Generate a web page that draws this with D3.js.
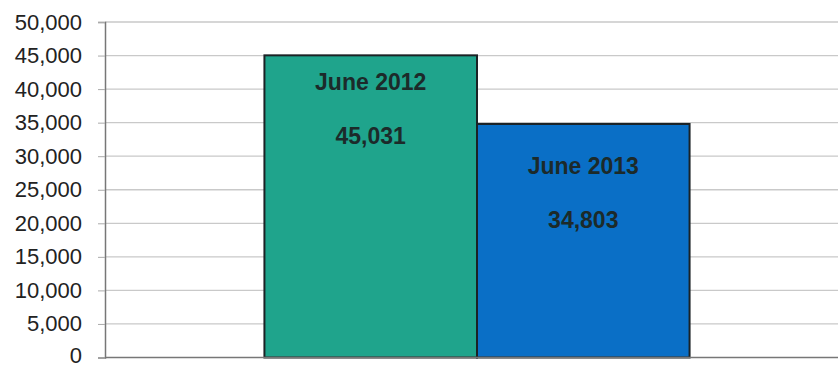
<!DOCTYPE html>
<html>
<head>
<meta charset="utf-8">
<script src="https://cdn.jsdelivr.net/npm/d3@7/dist/d3.min.js"></script>
<style>
  html, body { margin: 0; padding: 0; background: #fff; }
  svg { display: block; }
</style>
</head>
<body>
<svg id="chart" width="838" height="367"></svg>
<script>
// Chart data
const periods = ["June 2012", "June 2013"];
const totals = [45031, 34803];
const barColors = ["#1fa48c", "#0a6fc6"];
const yTicks = [0, 5000, 10000, 15000, 20000, 25000, 30000, 35000, 40000, 45000, 50000];

const svg = d3.select("#chart");
const plot = { left: 105, right: 849, top: 22, bottom: 357.5 };

const y = d3.scaleLinear().domain([0, 50000]).range([plot.bottom, plot.top]);
// one category; bars sit side by side with a 150% gap around the group
const x = d3.scaleBand().domain(periods).range([plot.left, plot.right])
  .paddingInner(0).paddingOuter(0.75);

const fmt = d3.format(",");

// horizontal gridlines
svg.append("g")
  .selectAll("line")
  .data(yTicks.filter(t => t > 0))
  .join("line")
  .attr("x1", plot.left).attr("x2", plot.right)
  .attr("y1", d => y(d)).attr("y2", d => y(d))
  .attr("stroke", "#c9c9c9").attr("stroke-width", 1.3);

// y axis
const yAxis = svg.append("g")
  .attr("transform", `translate(${plot.left},0)`)
  .call(d3.axisLeft(y).tickValues(yTicks).tickFormat(fmt).tickSize(7).tickPadding(16));
yAxis.select(".domain").attr("stroke", "#777").attr("stroke-width", 1.5);
yAxis.selectAll(".tick line").attr("stroke", "#aaa");
yAxis.selectAll("text")
  .attr("font-family", "Liberation Sans, Arial, sans-serif")
  .attr("font-size", 22).attr("fill", "#222")
  .attr("dy", d => d === 0 ? "0.22em" : "0.32em");

// bars
const bars = periods.map((p, i) => ({ period: p, value: totals[i], color: barColors[i] }));
svg.append("g")
  .selectAll("rect")
  .data(bars)
  .join("rect")
  .attr("x", d => x(d.period))
  .attr("y", d => y(d.value))
  .attr("width", x.bandwidth())
  .attr("height", d => y(0) - y(d.value))
  .attr("fill", d => d.color)
  .attr("stroke", "#1b2225").attr("stroke-width", 2);

// baseline
svg.append("line")
  .attr("x1", plot.left).attr("x2", plot.right)
  .attr("y1", plot.bottom).attr("y2", plot.bottom)
  .attr("stroke", "#777").attr("stroke-width", 1.5);

// in-bar labels: period name and value
const labelOffsets = [27, 42];
const lbl = svg.append("g")
  .attr("font-family", "Liberation Sans, Arial, sans-serif")
  .attr("font-weight", "bold")
  .attr("font-size", 23)
  .attr("fill", "#1c2a2a")
  .attr("text-anchor", "middle");
lbl.selectAll("text.name")
  .data(bars)
  .join("text")
  .attr("class", "name")
  .attr("x", d => x(d.period) + x.bandwidth() / 2)
  .attr("y", (d, i) => y(d.value) + labelOffsets[i])
  .attr("dy", "0.35em")
  .text(d => d.period);
lbl.selectAll("text.val")
  .data(bars)
  .join("text")
  .attr("class", "val")
  .attr("x", d => x(d.period) + x.bandwidth() / 2)
  .attr("y", (d, i) => y(d.value) + labelOffsets[i] + 54)
  .attr("dy", "0.35em")
  .text(d => fmt(d.value));
</script>
</body>
</html>
